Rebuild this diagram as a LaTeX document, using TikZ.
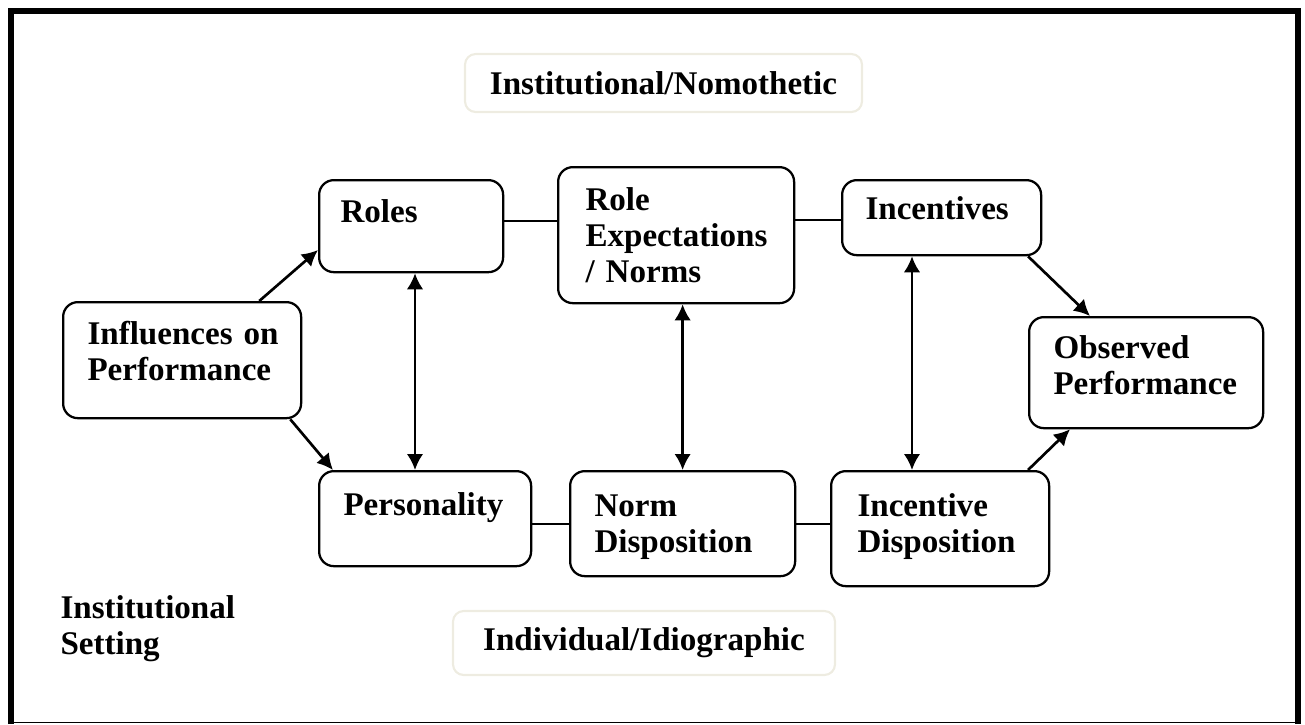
\documentclass[tikz,border=0pt]{standalone}
\usepackage{fontspec}
\setmainfont{Liberation Serif}
\usetikzlibrary{arrows.meta}
\usetikzlibrary{calc}

\newlength{\px}
\setlength{\px}{0.375pt}
\definecolor{tagline}{HTML}{EEECE1}

\tikzset{
  box/.style={draw, line width=0.85pt, rounded corners=5.5pt, anchor=north west, inner sep=0pt},
  tagbox/.style={draw=tagline, line width=0.8pt, rounded corners=4pt, inner sep=0pt,
    font=\fontsize{12.4}{13.5}\selectfont\bfseries},
  lbl/.style={anchor=base west, align=left, text width=260\px, inner sep=0pt,
    font=\fontsize{12.4}{13.5}\selectfont\bfseries},
  link/.style={line width=0.8pt},
  arr/.style={line width=1pt, -{Latex[length=6pt, width=6.2pt]}},
  darr/.style={line width=1pt, {Latex[length=6pt, width=6.2pt]}-{Latex[length=6pt, width=6.2pt]}},
}

\begin{document}
\begin{tikzpicture}[x=0.375pt, y=-0.375pt]
\useasboundingbox (0,0) rectangle (1305,724);

% frame
\draw[line width=2.25pt] (10.5,724) -- (10.5,11) -- (1297.5,11) -- (1297.5,724);
\draw[line width=0.5pt] (10.5,722.5) -- (1297.5,722.5);

% headings
\node[tagbox, minimum width=397\px, minimum height=58\px] (nomo) at (663.5,83) {Institutional/Nomothetic};
\node[tagbox, minimum width=382\px, minimum height=64\px] (idio) at (644,643) {Individual/Idiographic};

% boxes
\node[box, minimum width=238\px, minimum height=116\px] (inf) at (62,301) {};
\node[box, minimum width=184\px, minimum height=92\px] (roles) at (318,179) {};
\node[box, minimum width=236\px, minimum height=136\px] (rexp) at (557,166) {};
\node[box, minimum width=199\px, minimum height=75\px] (inc) at (841,179) {};
\node[box, minimum width=234\px, minimum height=111\px] (obs) at (1028,316) {};
\node[box, minimum width=212\px, minimum height=95\px] (pers) at (318,470) {};
\node[box, minimum width=225\px, minimum height=105\px] (norm) at (569,470) {};
\node[box, minimum width=218\px, minimum height=115\px] (incd) at (830,470) {};

% texts
\node[lbl] (tinf) at (87,344) {Influences on\\Performance};
\node[lbl] (troles) at (340,222) {Roles};
\node[lbl] (trexp) at (585,210) {Role\\Expectations\\/ Norms};
\node[lbl] (tinc) at (865,219) {Incentives};
\node[lbl] (tobs) at (1053,358) {Observed\\Performance};
\node[lbl] (tpers) at (343,515) {Personality};
\node[lbl] (tnorm) at (594,516) {Norm\\Disposition};
\node[lbl] (tincd) at (857,516) {Incentive\\Disposition};
\node[lbl] (tset) at (60,618) {Institutional\\Setting};

% plain links
\draw[link] ($(rexp.north west)+(0,55)$) -- ($(roles.north east |- rexp.north west)+(0,55)$);
\draw[link] ($(rexp.north east)+(0,54)$) -- ($(inc.north west |- rexp.north east)+(0,54)$);
\draw[link] (pers.east |- norm.west) -- (norm.west);
\draw[link] (norm.east) -- (norm.east -| incd.west);

% arrows
\draw[arr] ($(inf.north east)+(-43,0)$) -- ($(roles.north west)+(0,71)$);
\draw[arr] ($(inf.south east)+(-12,0)$) -- ($(pers.north west)+(15,0)$);
\draw[arr] ($(inc.south west)+(187,0)$) -- ($(obs.north west)+(62,0)$);
\draw[arr] ($(incd.north west)+(198,0)$) -- ($(obs.south west)+(42,0)$);
\draw[darr] ($(roles.south west)+(97,0)$) -- ($(pers.north west)+(97,0)$);
\draw[darr] (norm.north |- rexp.south) -- (norm.north);
\draw[darr] ($(inc.south west)+(71,0)$) -- ($(inc.south west |- incd.north)+(71,0)$);
\end{tikzpicture}
\end{document}
